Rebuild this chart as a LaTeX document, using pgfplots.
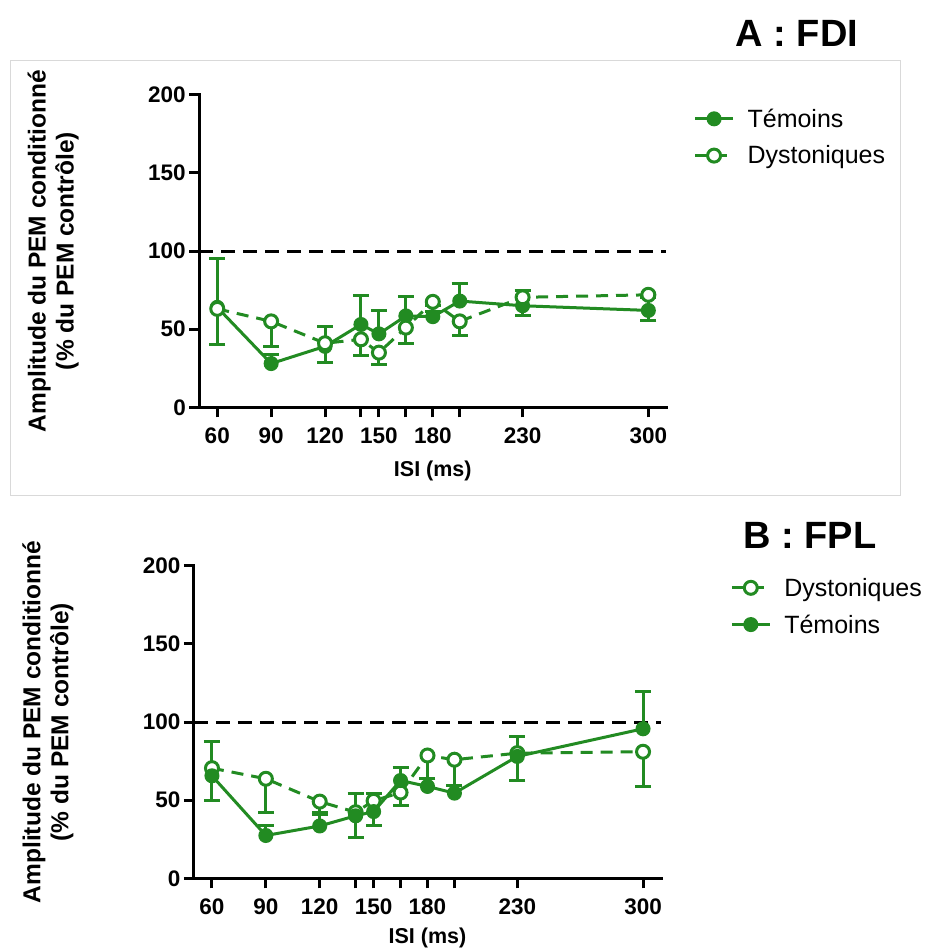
\documentclass[border=0pt]{standalone}
\usepackage{fontspec}
\setmainfont{Liberation Sans}
\usepackage{pgfplots}
\usepackage{pgfplotstable}
\pgfplotsset{compat=1.18}
\definecolor{pgreen}{RGB}{34,139,34}

% panel A : FDI
\pgfplotstableread{
x   T     Tp    D     Dm
60  64    31    63    23
90  28    6     55    16
120 39    13    41    12.5
140 53    18.5  43.5  10.5
150 47    15    35    7.5
165 58.5  12.7  51    10
180 58    7     67.5  6
195 68    11.3  55    9
230 65    10    70.4  11.6
300 62    8     72    16.5
}\dataA

% panel B : FPL
\pgfplotstableread{
x   T     Tp    D     Dm
60  65.6  22    70.5  21
90  27.4  6.4   63.7  21.6
120 33.5  7.5   49.1  7
140 40    14    42.3  16.3
150 42.7  11.3  49.6  15.8
165 62.6  8     54.9  8
180 58.8  5     78.6  15
195 54.5  5     75.9  16.5
230 78    12.8  80.1  17.5
300 95.7  24    81    22
}\dataB

\pgfplotsset{
  prism/.style={
    scale only axis, width=467pt, height=312.5pt,
    xmin=50, xmax=310, ymin=0, ymax=200,
    axis lines=left,
    axis line style={line width=3pt, -, line cap=rect},
    tick style={black, line width=3pt},
    major tick length=10pt,
    tick align=outside,
    xtick={60,90,120,140,150,165,180,195,230,300},
    xticklabels={60,90,120,,150,,180,,230,300},
    ytick={0,50,100,150,200},
    /pgf/number format/assume math mode=true,
    ticklabel style={font=\fontsize{22.5}{22.5}\selectfont\bfseries},
    xticklabel style={yshift=-7pt},
    xlabel={ISI (ms)},
    xlabel style={font=\fontsize{21.5}{21.5}\selectfont\bfseries,
      at={(axis description cs:0.5,-0.192)}, anchor=center},
    ylabel={Amplitude du PEM conditionné\\(\% du PEM contrôle)},
    ylabel style={align=center, font=\fontsize{24.5}{28}\selectfont\bfseries,
      at={(axis description cs:-0.313,0.5)}, anchor=center},
    legend cell align=left,
    legend style={draw=none, fill=none, font=\fontsize{25}{25}\selectfont,
      row sep=13pt, inner sep=0pt,
      /tikz/every odd column/.append style={column sep=11pt}},
    legend image code/.code={
      \draw[mark repeat=2, mark phase=2, #1] plot coordinates {(0pt,0pt) (19pt,0pt) (38pt,0pt)};},
    clip=false,
  },
  tem/.style={color=pgreen, line width=3pt, mark=*, mark size=6pt,
    mark options={solid, fill=pgreen},
    error bars/.cd, y dir=plus, y explicit,
    error bar style={solid, line width=3pt},
    error mark options={rotate=90, solid, line width=3pt, mark size=8pt}},
  dys/.style={color=pgreen, line width=3pt, dash pattern=on 12pt off 8pt,
    mark=*, mark size=6.5pt, mark options={solid, fill=white, line width=3pt},
    error bars/.cd, y dir=minus, y explicit,
    error bar style={solid, line width=3pt},
    error mark options={rotate=90, solid, line width=3pt, mark size=8pt}},
  ref/.style={black, line width=3pt, dash pattern=on 14pt off 8pt, forget plot},
}

\begin{document}
\begin{tikzpicture}
\path[use as bounding box] (0pt,0pt) rectangle (926pt,-951pt);
\draw[black!15, line width=1pt] (10pt,-60pt) rectangle (900pt,-495pt);

\node[font=\fontsize{38}{38}\selectfont\bfseries] at (797pt,-33pt) {A : FDI};
\begin{axis}[prism, at={(199.3pt,-407.3pt)}, anchor=south west,
  xlabel style={at={(axis description cs:0.5,-0.205)}},
  legend style={at={(axis description cs:1.058,0.962)}, anchor=north west}]
\addplot[ref] coordinates {(50,100) (310,100)};
\addplot[tem] table[x=x, y=T, y error plus=Tp] {\dataA};
\addplot[dys] table[x=x, y=D, y error minus=Dm] {\dataA};
\legend{Témoins, Dystoniques}
\end{axis}

\node[font=\fontsize{38}{38}\selectfont\bfseries] at (810pt,-535pt) {B : FPL};
\begin{axis}[prism, at={(194pt,-878.3pt)}, anchor=south west,
  legend style={at={(axis description cs:1.148,0.968)}, anchor=north west}]
\addplot[ref] coordinates {(50,100) (310,100)};
\addplot[dys] table[x=x, y=D, y error minus=Dm] {\dataB};
\addplot[tem] table[x=x, y=T, y error plus=Tp] {\dataB};
\legend{Dystoniques, Témoins}
\end{axis}
\end{tikzpicture}
\end{document}
